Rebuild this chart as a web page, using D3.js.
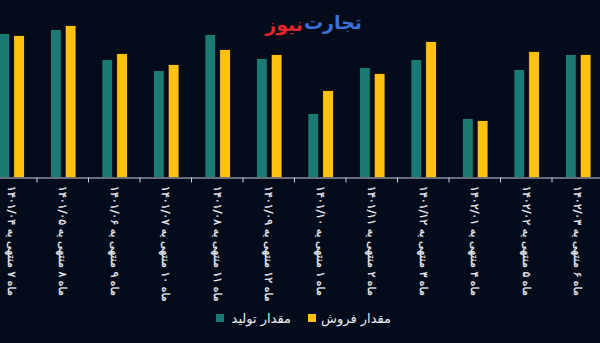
<!DOCTYPE html>
<html>
<head>
<meta charset="utf-8">
<script src="https://cdn.jsdelivr.net/npm/d3@7"></script>
<style>
  html, body { margin: 0; padding: 0; background: #040b1b; }
  svg { display: block; }
  text { font-family: "DejaVu Sans", sans-serif; }
</style>
</head>
<body>
<svg id="chart" width="600" height="343"></svg>
<script>
// Period labels (cumulative months ending at the given date)
const categories = [
  "ماه ۷ منتهی به ۱۴۰۱/۰۴",
  "ماه ۸ منتهی به ۱۴۰۱/۰۵",
  "ماه ۹ منتهی به ۱۴۰۱/۰۶",
  "ماه ۱۰ منتهی به ۱۴۰۱/۰۷",
  "ماه ۱۱ منتهی به ۱۴۰۱/۰۸",
  "ماه ۱۲ منتهی به ۱۴۰۱/۰۹",
  "ماه ۱ منتهی به ۱۴۰۱/۱۰",
  "ماه ۲ منتهی به ۱۴۰۱/۱۱",
  "ماه ۳ منتهی به ۱۴۰۱/۱۲",
  "ماه ۴ منتهی به ۱۴۰۲/۰۱",
  "ماه ۵ منتهی به ۱۴۰۲/۰۲",
  "ماه ۶ منتهی به ۱۴۰۲/۰۳"
];

// Production and sales amounts
const production = [144, 148, 118, 107, 143, 119, 64, 110, 118, 59, 108, 123];
const sales      = [142, 152, 124, 113, 128, 123, 87, 104, 136, 57, 126, 123];

const seriesNames = ["مقدار تولید", "مقدار فروش"];
const seriesColors = ["#1b7a73", "#ffc10f"];

const svg = d3.select("#chart");
const W = 600, H = 343;
const baseline = 177.5;

svg.append("rect").attr("width", W).attr("height", H).attr("fill", "#040b1b");

const x0 = d3.scaleBand().domain(categories).range([-14.5, 603.5]).paddingInner(0).paddingOuter(0);
const x1 = d3.scaleBand().domain([0, 1]).range([13.4, 39]).paddingInner(0.27).paddingOuter(0);
const y = d3.scaleLinear().domain([0, 160]).range([baseline, baseline - 160]);

const rows = categories.map((c, i) => ({ cat: c, vals: [production[i], sales[i]] }));

const groups = svg.append("g").selectAll("g")
  .data(rows).join("g")
  .attr("transform", d => `translate(${x0(d.cat)},0)`);

groups.selectAll("rect")
  .data(d => d.vals.map((v, k) => ({ k, v })))
  .join("rect")
  .attr("x", d => x1(d.k))
  .attr("width", x1.bandwidth())
  .attr("y", d => y(d.v))
  .attr("height", d => y(0) - y(d.v))
  .attr("fill", d => seriesColors[d.k])
  .attr("stroke", "#02060f")
  .attr("stroke-width", 0.8);

// Category axis
const axis = d3.axisBottom(x0).tickSize(0).tickFormat("");
const gx = svg.append("g").attr("transform", `translate(0,${baseline})`).call(axis);
gx.select(".domain").attr("stroke", "#c9d0da").attr("stroke-width", 1);

// Separator ticks between categories
svg.append("g").selectAll("line")
  .data(categories.slice(1))
  .join("line")
  .attr("x1", d => x0(d)).attr("x2", d => x0(d))
  .attr("y1", baseline).attr("y2", baseline + 5)
  .attr("stroke", "#c9d0da").attr("stroke-width", 1);

// Rotated category labels
svg.append("g").selectAll("text")
  .data(categories)
  .join("text")
  .attr("transform", d => `translate(${x0(d) + x0.bandwidth() / 2},186) rotate(90)`)
  .attr("text-anchor", "start")
  .attr("dominant-baseline", "central")
  .attr("fill", "#e9edf2")
  .attr("stroke", "#e9edf2")
  .attr("stroke-width", 0.3)
  .attr("font-size", 11)
  .text(d => d);

// Legend: swatch left of each label
const legend = svg.append("g");
const legendItems = [
  { k: 0, sx: 216, right: 291 },
  { k: 1, sx: 308, right: 391 }
];
legendItems.forEach(it => {
  legend.append("rect")
    .attr("x", it.sx).attr("y", 314).attr("width", 8).attr("height", 8)
    .attr("fill", seriesColors[it.k]);
  legend.append("text")
    .attr("x", it.right).attr("y", 318)
    .attr("dominant-baseline", "central")
    .attr("text-anchor", "end")
    .attr("fill", "#e9edf2")
    .attr("font-size", 13)
    .text(seriesNames[it.k]);
});

// Brand mark
const brandBlue = svg.append("text")
  .attr("x", 362).attr("y", 22)
  .attr("text-anchor", "end").attr("dominant-baseline", "central")
  .attr("font-size", 19).attr("font-weight", "bold")
  .attr("fill", "#3a72d8")
  .text("تجارت");
const blueW = brandBlue.node().getComputedTextLength();
svg.append("text")
  .attr("x", 362 - blueW - 1).attr("y", 24)
  .attr("text-anchor", "end").attr("dominant-baseline", "central")
  .attr("font-size", 19).attr("font-weight", "bold")
  .attr("fill", "#e2262d")
  .text("نیوز");
</script>
</body>
</html>
